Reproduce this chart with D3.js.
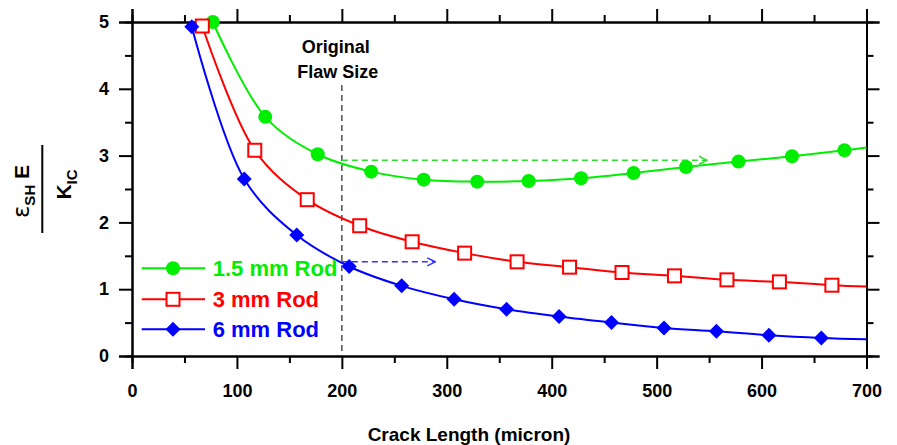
<!DOCTYPE html>
<html>
<head>
<meta charset="utf-8">
<script src="https://cdn.jsdelivr.net/npm/d3@7"></script>
<style>
  body { margin: 0; background: #fff; }
  text { font-family: "Liberation Sans", Arial, Helvetica, sans-serif; font-weight: bold; }
</style>
</head>
<body>
<div id="chart"></div>
<script>
// data
var rod15X = [77, 127, 177, 228, 278, 329, 378, 428, 478, 528, 578, 629, 679];
var rod15Y = [5.0, 3.58, 3.02, 2.76, 2.64, 2.61, 2.62, 2.66, 2.74, 2.83, 2.91, 2.99, 3.08];
var rod3X = [67, 117, 167, 217, 267, 317, 367, 417, 467, 517, 567, 617, 667];
var rod3Y = [4.94, 3.08, 2.34, 1.95, 1.71, 1.54, 1.41, 1.33, 1.25, 1.20, 1.14, 1.11, 1.06];
var rod6X = [57, 107, 157, 207, 257, 307, 357, 407, 457, 507, 557, 607, 657];
var rod6Y = [4.93, 2.65, 1.81, 1.34, 1.05, 0.85, 0.70, 0.59, 0.50, 0.42, 0.37, 0.31, 0.27];
// where each fitted curve leaves the plot at x = 700
var curveEndY = [3.12, 1.04, 0.25];
var seriesNames = ["1.5 mm Rod", "3 mm Rod", "6 mm Rod"];
var seriesColors = ["#00ee00", "#ff0000", "#0000ff"];
var xTicks = [0, 100, 200, 300, 400, 500, 600, 700];
var yTicks = [0, 1, 2, 3, 4, 5];
var flawSize = 200;
var arrowY = [2.93, 1.41];
var arrowEndX = [548, 289];

var width = 897, height = 445;
var svg = d3.select("#chart").append("svg")
    .attr("width", width)
    .attr("height", height);

var x = d3.scaleLinear().domain([0, 700]).range([132, 866.5]);
var y = d3.scaleLinear().domain([0, 5]).range([356, 22]);

var minorX = d3.range(50, 700, 100);
var minorY = d3.range(0.5, 5, 1);

function drawAxis(axisFn, scale, transform, major, minor, labels) {
    var g = svg.append("g").attr("transform", transform);
    g.call(axisFn(scale).tickValues(minor).tickSize(7).tickFormat(""));
    var g2 = svg.append("g").attr("transform", transform);
    g2.call(axisFn(scale).tickValues(major).tickSize(13).tickPadding(labels ? (axisFn === d3.axisBottom ? 15 : 10) : 0)
        .tickFormat(labels ? d3.format("d") : ""));
    [g, g2].forEach(function(s) {
        s.select(".domain").attr("stroke", "#000").attr("stroke-width", 2);
        s.selectAll(".tick line").attr("stroke", "#000").attr("stroke-width", 2);
        s.selectAll("text").attr("fill", "#000").style("font-size", "18px")
            .style("font-family", "'Liberation Sans', Arial, sans-serif").style("font-weight", "bold");
    });
}

drawAxis(d3.axisBottom, x, "translate(0,356)", xTicks, minorX, true);
drawAxis(d3.axisTop, x, "translate(0,22)", xTicks, minorX, false);
drawAxis(d3.axisLeft, y, "translate(132,0)", yTicks, minorY, true);
drawAxis(d3.axisRight, y, "translate(866.5,0)", yTicks, minorY, false);

// original flaw size marker
svg.append("line")
    .attr("x1", x(flawSize)).attr("x2", x(flawSize))
    .attr("y1", 85).attr("y2", y(0))
    .attr("stroke", "#333").attr("stroke-width", 1.3)
    .attr("stroke-dasharray", "6,4");

svg.append("text").attr("x", x(flawSize) - 6).attr("y", 53)
    .attr("text-anchor", "middle").style("font-size", "18px").text("Original");
svg.append("text").attr("x", x(flawSize) - 4).attr("y", 78)
    .attr("text-anchor", "middle").style("font-size", "18px").text("Flaw Size");

// dashed arrows
svg.append("defs").selectAll("marker")
    .data([0, 1]).enter().append("marker")
    .attr("id", function(d) { return "arrow" + d; })
    .attr("viewBox", "0 0 10 10")
    .attr("refX", 9).attr("refY", 5)
    .attr("markerWidth", 10).attr("markerHeight", 10)
    .attr("markerUnits", "userSpaceOnUse")
    .attr("orient", "auto")
    .append("path")
    .attr("d", "M1,1L9,5L1,9")
    .attr("fill", "none")
    .attr("stroke", function(d) { return d === 0 ? "#33dd33" : "#3333ff"; })
    .attr("stroke-width", 1.5);

arrowY.forEach(function(v, i) {
    svg.append("line")
        .attr("x1", x(flawSize)).attr("x2", x(arrowEndX[i]))
        .attr("y1", y(v)).attr("y2", y(v))
        .attr("stroke", i === 0 ? "#33dd33" : "#3333ff")
        .attr("stroke-width", 1.5)
        .attr("stroke-dasharray", "6,4")
        .attr("marker-end", "url(#arrow" + i + ")");
});

// series
var allX = [rod15X, rod3X, rod6X];
var allY = [rod15Y, rod3Y, rod6Y];
var line = d3.line()
    .x(function(d) { return x(d[0]); })
    .y(function(d) { return y(d[1]); })
    .curve(d3.curveCatmullRom.alpha(0.5));

var diamond = "M0,-7.5L7.5,0L0,7.5L-7.5,0Z";

function drawMarker(g, i, cx, cy) {
    if (i === 0) {
        g.append("circle").attr("cx", cx).attr("cy", cy).attr("r", 7)
            .attr("fill", seriesColors[i]);
    } else if (i === 1) {
        g.append("rect").attr("x", cx - 6.5).attr("y", cy - 6.5)
            .attr("width", 13).attr("height", 13)
            .attr("fill", "#fff").attr("stroke", seriesColors[i]).attr("stroke-width", 2);
    } else {
        g.append("path").attr("d", diamond)
            .attr("transform", "translate(" + cx + "," + cy + ")")
            .attr("fill", seriesColors[i]);
    }
}

allX.forEach(function(xs, i) {
    var pts = xs.map(function(v, j) { return [v, allY[i][j]]; });
    pts.push([700, curveEndY[i]]);
    svg.append("path").datum(pts)
        .attr("d", line)
        .attr("fill", "none")
        .attr("stroke", seriesColors[i])
        .attr("stroke-width", 2);
    var g = svg.append("g");
    xs.forEach(function(v, j) {
        drawMarker(g, i, x(v), y(allY[i][j]));
    });
});

// legend
var legendY = [268.3, 299.3, 329.3];
seriesNames.forEach(function(name, i) {
    var g = svg.append("g");
    g.append("line").attr("x1", 141.7).attr("x2", 205)
        .attr("y1", legendY[i]).attr("y2", legendY[i])
        .attr("stroke", seriesColors[i]).attr("stroke-width", 2);
    drawMarker(g, i, 173, legendY[i]);
    g.append("text").attr("x", 212.7).attr("y", legendY[i]).attr("dy", "0.36em")
        .attr("fill", seriesColors[i]).style("font-size", "22px").text(name);
});

// axis titles
svg.append("text").attr("x", 469).attr("y", 441)
    .attr("text-anchor", "middle").style("font-size", "19px")
    .text("Crack Length (micron)");

var num = svg.append("text")
    .attr("transform", "translate(29,191.5) rotate(-90)")
    .attr("text-anchor", "middle").style("font-size", "21px");
num.append("tspan").style("font-weight", "normal").style("font-family", "'DejaVu Sans', sans-serif")
    .style("font-size", "23px").text("ε");
num.append("tspan").attr("dy", 6).style("font-size", "15px").text("SH");
num.append("tspan").attr("dy", -6).text(" E");

svg.append("line").attr("x1", 42.3).attr("x2", 42.3).attr("y1", 145).attr("y2", 233)
    .attr("stroke", "#000").attr("stroke-width", 2);

var den = svg.append("text")
    .attr("transform", "translate(71,184.5) rotate(-90)")
    .attr("text-anchor", "middle").style("font-size", "21px");
den.append("tspan").text("K");
den.append("tspan").attr("dy", 6).style("font-size", "15px").text("IC");
</script>
</body>
</html>
